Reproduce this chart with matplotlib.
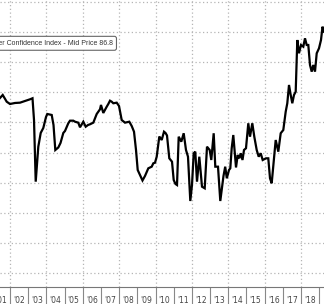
import matplotlib
matplotlib.use("Agg")
import matplotlib.pyplot as plt
from matplotlib.ticker import FixedLocator, NullFormatter

# Decimal-year dates and index values
dates = [2001.450, 2001.599, 2001.819, 2002.000, 2002.275, 2002.550, 2002.825, 2003.100,
         2003.237, 2003.320, 2003.413, 2003.556, 2003.688, 2003.831, 2003.979, 2004.051,
         2004.293, 2004.392, 2004.491, 2004.656, 2004.777, 2004.931, 2005.024, 2005.205,
         2005.299, 2005.480, 2005.574, 2005.755, 2005.849, 2006.030, 2006.162, 2006.288,
         2006.398, 2006.580, 2006.767, 2006.948, 2007.003, 2007.130, 2007.317, 2007.405,
         2007.498, 2007.592, 2007.680, 2007.866, 2007.993, 2008.141, 2008.323, 2008.559,
         2008.691, 2008.818, 2008.928, 2009.021, 2009.148, 2009.285, 2009.422, 2009.604,
         2009.791, 2009.879, 2009.972, 2010.066, 2010.209, 2010.341, 2010.467, 2010.550,
         2010.632, 2010.758, 2010.907, 2011.000, 2011.099, 2011.182, 2011.275, 2011.418,
         2011.550, 2011.676, 2011.786, 2011.913, 2012.006, 2012.100, 2012.188, 2012.281,
         2012.408, 2012.556, 2012.705, 2012.831, 2012.979, 2013.067, 2013.199, 2013.287,
         2013.436, 2013.562, 2013.738, 2013.832, 2013.920, 2014.041, 2014.112, 2014.189,
         2014.277, 2014.426, 2014.519, 2014.607, 2014.684, 2014.783, 2014.865, 2014.975,
         2015.102, 2015.195, 2015.322, 2015.432, 2015.564, 2015.674, 2015.784, 2015.893,
         2016.075, 2016.201, 2016.295, 2016.388, 2016.515, 2016.608, 2016.751, 2016.883,
         2017.026, 2017.158, 2017.246, 2017.340, 2017.433, 2017.521, 2017.614, 2017.708,
         2017.796, 2017.889, 2017.999, 2018.126, 2018.219, 2018.313, 2018.401, 2018.494,
         2018.588, 2018.676, 2018.769, 2018.863, 2018.989, 2019.099, 2019.182, 2019.264]

values = [74.06, 74.56, 73.44, 73.06, 73.23, 73.28, 73.56, 73.84,
          74.01, 70.40, 60.16, 65.97, 68.25, 69.08, 70.90, 71.40,
          71.24, 69.57, 65.42, 65.84, 66.59, 68.25, 68.58, 69.86,
          70.29, 70.29, 70.12, 69.96, 69.19, 70.12, 69.29, 69.57,
          69.69, 69.96, 71.40, 72.18, 72.90, 71.57, 72.61, 73.06,
          73.61, 73.44, 73.18, 73.28, 72.73, 70.40, 69.96, 70.12,
          69.41, 68.46, 65.42, 62.10, 61.27, 60.36, 61.11, 62.38,
          62.65, 63.21, 63.31, 64.31, 67.66, 67.08, 68.46, 68.25,
          67.83, 64.04, 63.48, 60.44, 59.78, 59.61, 67.63, 66.80,
          68.20, 65.42, 64.31, 56.95, 59.61, 64.88, 65.14, 60.16,
          64.31, 59.33, 59.06, 65.97, 65.42, 63.76, 68.20, 62.65,
          62.65, 56.95, 61.11, 62.65, 60.72, 62.10, 62.38, 65.71,
          67.91, 62.52, 64.59, 64.04, 64.88, 63.76, 65.42, 65.71,
          69.86, 67.63, 69.86, 67.63, 65.42, 64.31, 64.88, 63.76,
          64.04, 64.04, 60.72, 59.89, 64.04, 67.08, 65.14, 68.20,
          68.74, 71.78, 73.18, 76.22, 74.56, 73.18, 74.56, 75.10,
          83.69, 81.48, 82.86, 82.58, 83.97, 82.86, 82.86, 79.54,
          78.43, 79.54, 78.43, 81.48, 82.31, 83.69, 85.90, 85.07]

years = list(range(2001, 2020))
year_labels = ["'%02d" % (y % 100) for y in years]
grid_years = list(range(2002, 2020, 2))
grid_values = list(range(45, 95, 5))
legend_text = "Consumer Confidence Index - Mid Price 86.8"

fig = plt.figure(figsize=(3.24, 3.04), dpi=100)
ax = fig.add_axes([0, 17 / 304, 1, 287 / 304])

ax.plot(dates, values, color="black", lw=1.6, zorder=3, solid_joinstyle="miter")

ax.set_xlim(2001.45, 2019.264)
ax.set_ylim(42.67, 90.33)

for s in ["top", "left", "right"]:
    ax.spines[s].set_visible(False)
ax.spines["bottom"].set_color("#777777")
ax.spines["bottom"].set_linewidth(0.8)

for gy in grid_years:
    ax.axvline(gy, color="#b5b5b5", lw=0.9, ls=(0, (1, 2)), zorder=1)
for gv in grid_values:
    ax.axhline(gv, color="#b5b5b5", lw=0.9, ls=(0, (1, 2)), zorder=1)

ax.xaxis.set_major_locator(FixedLocator(years))
ax.xaxis.set_major_formatter(NullFormatter())
ax.xaxis.set_minor_locator(FixedLocator([y + 0.5 for y in years]))
ax.set_xticklabels(year_labels, minor=True)
ax.tick_params(axis="x", which="major", length=13, width=0.8, color="#888888", direction="out")
ax.tick_params(axis="x", which="minor", length=0, pad=6.5, labelsize=5.5, labelcolor="#444444")
ax.set_yticks([])

fig.text(113 / 324, 1 - 43.3 / 304, legend_text, ha="right", va="center",
         fontsize=5.0, color="#333333", family=["Liberation Sans", "DejaVu Sans"],
         bbox=dict(boxstyle="round,pad=0.5,rounding_size=0.3", fc="white", ec="#666666", lw=0.8))

fig.savefig("out.png", dpi=100)
